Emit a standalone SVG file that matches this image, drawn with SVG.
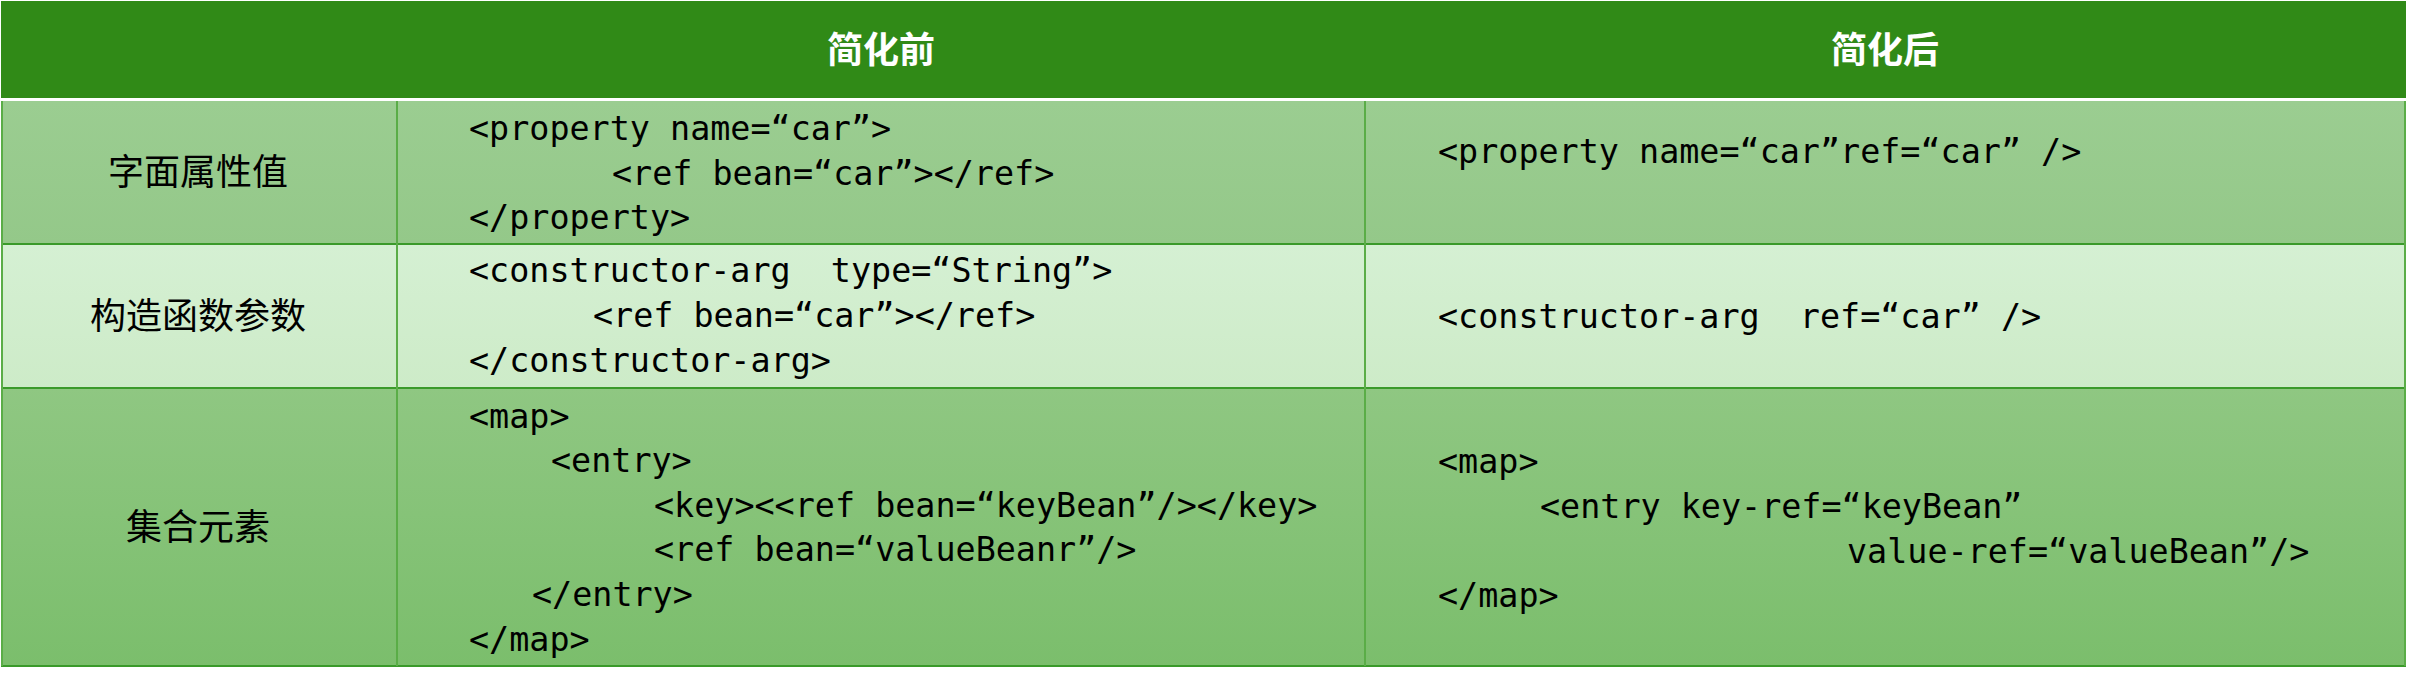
<svg xmlns="http://www.w3.org/2000/svg" width="2411" height="684" viewBox="0 0 2411 684">
<style>
.cjk{font-family:"Noto Sans CJK SC","Noto Sans",sans-serif;font-size:36px;fill:#000}
.hdr{font-family:"Noto Sans CJK SC","Noto Sans",sans-serif;font-size:36px;font-weight:bold;fill:#fff}
.code{font-family:"DejaVu Sans Mono","Liberation Mono",monospace;font-size:33.4px;fill:#000;white-space:pre}
.hl{stroke:#3a9a2a;stroke-width:2;fill:none}
.vl{stroke:#5aad47;stroke-width:2;fill:none}
</style>
<defs>
<linearGradient id="g1" x1="0" y1="0" x2="0" y2="1"><stop offset="0" stop-color="#9bcd91"/><stop offset="1" stop-color="#94c889"/></linearGradient>
<linearGradient id="g2" x1="0" y1="0" x2="0" y2="1"><stop offset="0" stop-color="#d5f0d3"/><stop offset="1" stop-color="#cdebc8"/></linearGradient>
<linearGradient id="g3" x1="0" y1="0" x2="0" y2="1"><stop offset="0" stop-color="#8fc782"/><stop offset="1" stop-color="#7bbe6c"/></linearGradient>
</defs>
<rect width="2411" height="684" fill="#fff"/>
<g id="header">
<rect x="1" y="1" width="2405" height="97" fill="#308a17"/>
<text class="hdr" x="881" y="63" text-anchor="middle">简化前</text>
<text class="hdr" x="1885" y="63" text-anchor="middle">简化后</text>
</g>
<g id="row1">
<rect x="1" y="101" width="2405" height="143" fill="url(#g1)"/>
<text class="cjk" x="198" y="185" text-anchor="middle">字面属性值</text>
<text class="code" x="469" y="140">&lt;property name=“car”&gt;</text>
<text class="code" x="612" y="185">&lt;ref bean=“car”&gt;&lt;/ref&gt;</text>
<text class="code" x="469" y="229">&lt;/property&gt;</text>
<text class="code" x="1438" y="163">&lt;property name=“car”ref=“car” /&gt;</text>
</g>
<g id="row2">
<rect x="1" y="244" width="2405" height="144" fill="url(#g2)"/>
<text class="cjk" x="198" y="329" text-anchor="middle">构造函数参数</text>
<text class="code" x="469" y="282">&lt;constructor-arg  type=“String”&gt;</text>
<text class="code" x="593" y="327">&lt;ref bean=“car”&gt;&lt;/ref&gt;</text>
<text class="code" x="469" y="372">&lt;/constructor-arg&gt;</text>
<text class="code" x="1438" y="328">&lt;constructor-arg  ref=“car” /&gt;</text>
</g>
<g id="row3">
<rect x="1" y="388" width="2405" height="278" fill="url(#g3)"/>
<text class="cjk" x="198" y="540" text-anchor="middle">集合元素</text>
<text class="code" x="469" y="428">&lt;map&gt;</text>
<text class="code" x="551" y="472">&lt;entry&gt;</text>
<text class="code" x="654" y="517">&lt;key&gt;&lt;&lt;ref bean=“keyBean”/&gt;&lt;/key&gt;</text>
<text class="code" x="654" y="561">&lt;ref bean=“valueBeanr”/&gt;</text>
<text class="code" x="532" y="606">&lt;/entry&gt;</text>
<text class="code" x="469" y="651">&lt;/map&gt;</text>
<text class="code" x="1438" y="473">&lt;map&gt;</text>
<text class="code" x="1540" y="518">&lt;entry key-ref=“keyBean”</text>
<text class="code" x="1847" y="563">value-ref=“valueBean”/&gt;</text>
<text class="code" x="1438" y="607">&lt;/map&gt;</text>
</g>
<g id="connectors">
<line class="hl" x1="1" y1="244" x2="2406" y2="244"/>
<line class="hl" x1="1" y1="388" x2="2406" y2="388"/>
<line class="hl" x1="1" y1="666" x2="2406" y2="666"/>
<line class="vl" x1="2" y1="101" x2="2" y2="666"/>
<line class="vl" x1="397" y1="101" x2="397" y2="666"/>
<line class="vl" x1="1365" y1="101" x2="1365" y2="666"/>
<line class="vl" x1="2405" y1="101" x2="2405" y2="666"/>
</g>
</svg>
